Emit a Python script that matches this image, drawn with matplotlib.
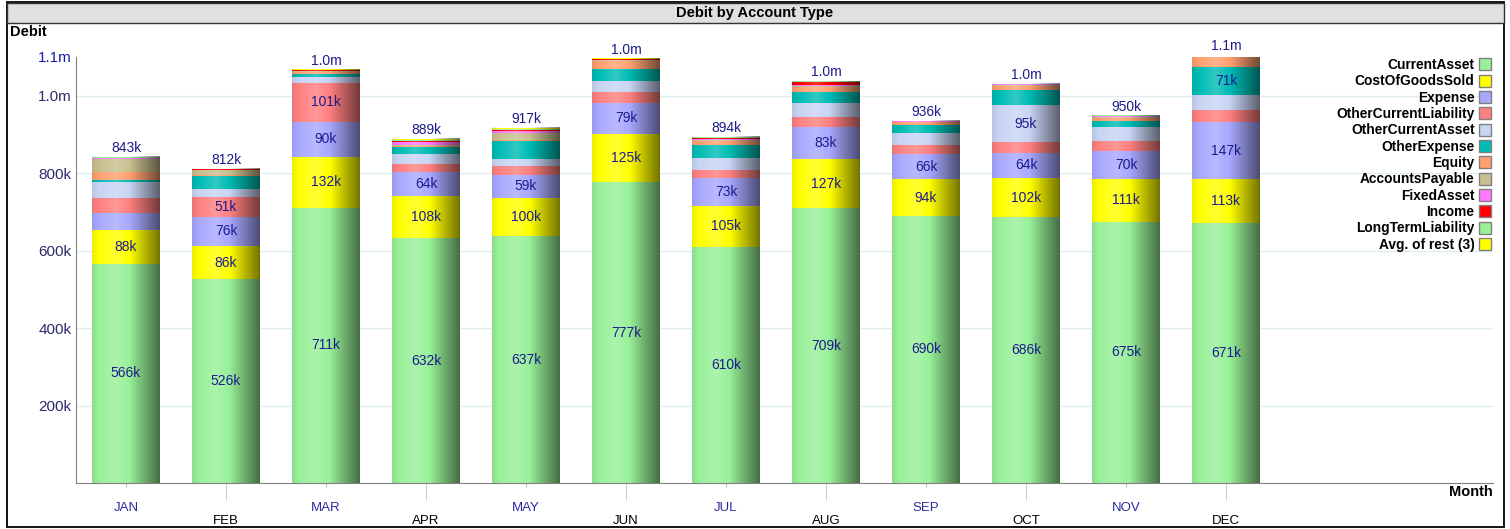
import numpy as np
import matplotlib
matplotlib.use("Agg")
import matplotlib.pyplot as plt
from matplotlib.patches import Rectangle, Patch

plt.rcParams['font.family'] = ['Liberation Sans', 'DejaVu Sans']

# data (values in k)
months = ['JAN', 'FEB', 'MAR', 'APR', 'MAY', 'JUN', 'JUL', 'AUG', 'SEP', 'OCT', 'NOV', 'DEC']
current_asset = [566, 526, 711, 632, 637, 777, 610, 709, 690, 686, 675, 671]
cost_of_goods_sold = [88, 86, 132, 108, 100, 125, 105, 127, 94, 102, 111, 113]
expense = [42, 76, 90, 64, 59, 79, 73, 83, 66, 64, 70, 147]
other_current_liability = [41, 51, 101, 21, 23, 29, 21, 27, 24, 28, 28, 33]
other_current_asset = [40, 20, 14, 24, 17, 27, 30, 36, 30, 95, 35, 39]
other_expense = [6, 34, 9, 18, 48, 31, 35, 28, 21, 40, 17, 71]
equity = [21, 2, 3, 4, 2, 22, 8, 13, 6, 10, 7, 25]
accounts_payable = [33, 14, 3, 3, 17, 2, 3, 3, 2, 3, 3, 3]
fixed_asset = [1, 0.5, 1, 7, 7, 1, 4, 1, 1, 1, 1, 1]
income = [1, 1, 2, 1, 1, 1, 3, 8, 0.5, 1, 1, 1]
long_term_liability = [3, 1, 1, 3, 3, 2, 1, 2, 1, 1, 1, 1]
avg_of_rest = [1, 0.5, 1, 4, 3, 1, 1, 1, 0.5, 0, 1, 1]

series = [
    ('CurrentAsset', current_asset, '#98f098'),
    ('CostOfGoodsSold', cost_of_goods_sold, '#ffff00'),
    ('Expense', expense, '#a8a8ff'),
    ('OtherCurrentLiability', other_current_liability, '#ff8080'),
    ('OtherCurrentAsset', other_current_asset, '#c8d4f4'),
    ('OtherExpense', other_expense, '#00bcb4'),
    ('Equity', equity, '#ffa070'),
    ('AccountsPayable', accounts_payable, '#c8c090'),
    ('FixedAsset', fixed_asset, '#ff78ff'),
    ('Income', income, '#ff0000'),
    ('LongTermLiability', long_term_liability, '#98f098'),
    ('Avg. of rest (3)', avg_of_rest, '#ffff00'),
]

W, H = 1510, 529
fig = plt.figure(figsize=(W / 100, H / 100), dpi=100)

# outer frame + title band
fig.patches.append(Rectangle((7 / W, 2 / H), 1497 / W, 525 / H, transform=fig.transFigure,
                             fill=False, edgecolor='black', lw=1.3))
fig.patches.append(Rectangle((7 / W, 1 - 23 / H), 1497 / W, 20 / H, transform=fig.transFigure,
                             facecolor='#e0e0e0', edgecolor='#333333', lw=1.0))
fig.text(755 / W, 1 - 13 / H, 'Debit by Account Type', ha='center', va='center',
         fontsize=10.5, fontweight='bold')
fig.text(10 / W, 1 - 32 / H, 'Debit', ha='left', va='center', fontsize=10.5, fontweight='bold')
fig.text(1493 / W, 1 - 492 / H, 'Month', ha='right', va='center', fontsize=10.5, fontweight='bold')

ax = fig.add_axes([76 / W, 1 - 483 / H, 1417 / W, 426 / H])
x = np.arange(len(months))
width = 0.68

bottom = np.zeros(len(months))
for name, vals, col in series:
    vals = np.array(vals, dtype=float)
    ax.bar(x, vals, width, bottom=bottom, color=col, edgecolor='none', zorder=2)
    for i, v in enumerate(vals):
        if v >= 50:
            ax.text(x[i], bottom[i] + v / 2, '%dk' % round(v), ha='center', va='center',
                    fontsize=10, color='#1c1c8c', zorder=4)
    bottom += vals
totals = bottom

# cylinder-like shading over each bar
t = np.linspace(0, 1, 120)
shade = np.interp(t, [0, 0.35, 0.55, 1], [-0.08, 0.2, 0.0, -0.55])
grad = np.zeros((1, len(t), 4))
grad[0, shade > 0, :3] = 1.0
grad[0, :, 3] = np.abs(shade)
for i, tot in enumerate(totals):
    ax.imshow(grad, extent=(x[i] - width / 2, x[i] + width / 2, 0, tot), aspect='auto',
              interpolation='bilinear', zorder=3)
    if tot >= 1000:
        lab = '%.1fm' % (int(tot // 100) / 10)
    else:
        lab = '%dk' % round(tot)
    ax.text(x[i], tot + 4, lab, ha='center', va='bottom', fontsize=10, color='#1c1c8c', zorder=4)

ax.set_xlim(-0.5, 13.67)
ax.set_ylim(0, 1100)

yt = [200, 400, 600, 800, 1000, 1100]
ax.set_yticks(yt)
ax.set_yticklabels(['200k', '400k', '600k', '800k', '1.0m', '1.1m'])
for lbl in ax.get_yticklabels():
    lbl.set_color('#2c2c6c')
ax.get_yticklabels()[-1].set_color('#1c1cac')
ax.tick_params(axis='y', length=0, pad=3, labelsize=11)
for v in yt[:-1]:
    ax.axhline(v, color='#e0eeee', lw=1, zorder=1)

# staggered month labels
ax.set_xticks(x[::2])
ax.set_xticklabels(months[::2])
ax.set_xticks(x[1::2], minor=True)
ax.set_xticklabels(months[1::2], minor=True)
ax.tick_params(axis='x', which='major', length=3, color='#c0c0c0', pad=10.5,
               labelsize=9.5, labelcolor='#2a2aa0')
ax.tick_params(axis='x', which='minor', length=12.5, color='#c0c0c0', pad=10.5,
               labelsize=9.5, labelcolor='black')

for s in ['top', 'right']:
    ax.spines[s].set_visible(False)
for s in ['left', 'bottom']:
    ax.spines[s].set_color('#808080')

handles = [Patch(facecolor=c, edgecolor='#808080', label=n) for n, v, c in series]
leg = fig.legend(handles=handles, loc='upper right', bbox_to_anchor=(1491 / W, 1 - 58 / H),
                 frameon=False, markerfirst=False, prop={'weight': 'bold', 'size': 9.9},
                 handlelength=0.85, handleheight=0.95, handletextpad=0.35, labelspacing=0.17,
                 borderpad=0, borderaxespad=0)

fig.savefig('out.png', dpi=100)
